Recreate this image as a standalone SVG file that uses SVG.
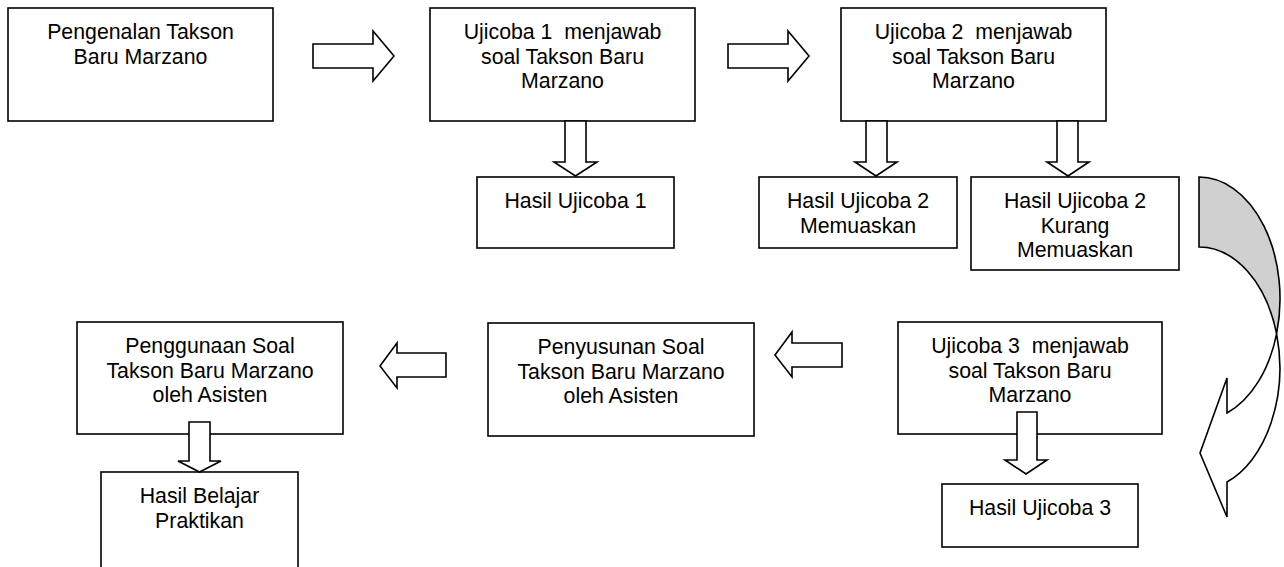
<svg xmlns="http://www.w3.org/2000/svg" width="1284" height="567" viewBox="0 0 1284 567">
<style>
.box{fill:#fff;stroke:#000;stroke-width:1.6}
.arr{fill:#fff;stroke:#000;stroke-width:1.6;stroke-linejoin:miter}
.t{font-family:"Liberation Sans",Arial,sans-serif;font-size:21.3px;fill:#000;text-anchor:middle;white-space:pre}
</style>
<rect width="1284" height="567" fill="#fff"/>
<g id="n1"><rect class="box" x="8" y="8" width="265" height="113"/>
<text class="t" x="140.5" y="39">Pengenalan Takson</text><text class="t" x="140.5" y="63.5">Baru Marzano</text></g>
<g id="n2"><rect class="box" x="430" y="8" width="265" height="113"/>
<text class="t" x="562.5" y="39" xml:space="preserve">Ujicoba 1  menjawab</text><text class="t" x="562.5" y="63.5">soal Takson Baru</text><text class="t" x="562.5" y="88">Marzano</text></g>
<g id="n3"><rect class="box" x="841" y="8" width="265" height="113"/>
<text class="t" x="973.5" y="39" xml:space="preserve">Ujicoba 2  menjawab</text><text class="t" x="973.5" y="63.5">soal Takson Baru</text><text class="t" x="973.5" y="88">Marzano</text></g>
<g id="n4"><rect class="box" x="477" y="177" width="197" height="71"/>
<text class="t" x="575.5" y="208">Hasil Ujicoba 1</text></g>
<g id="n5"><rect class="box" x="759" y="177" width="198" height="71"/>
<text class="t" x="858" y="208">Hasil Ujicoba 2</text><text class="t" x="858" y="232.5">Memuaskan</text></g>
<g id="n6"><rect class="box" x="971" y="177" width="208" height="93"/>
<text class="t" x="1075" y="208">Hasil Ujicoba 2</text><text class="t" x="1075" y="232.5">Kurang</text><text class="t" x="1075" y="257">Memuaskan</text></g>
<g id="n7"><rect class="box" x="898" y="322" width="264" height="112"/>
<text class="t" x="1030" y="353" xml:space="preserve">Ujicoba 3  menjawab</text><text class="t" x="1030" y="377.5">soal Takson Baru</text><text class="t" x="1030" y="402">Marzano</text></g>
<g id="n8"><rect class="box" x="942" y="484" width="196" height="63"/>
<text class="t" x="1040" y="515">Hasil Ujicoba 3</text></g>
<g id="n9"><rect class="box" x="488" y="323" width="266" height="113"/>
<text class="t" x="621" y="354">Penyusunan Soal</text><text class="t" x="621" y="378.5">Takson Baru Marzano</text><text class="t" x="621" y="403">oleh Asisten</text></g>
<g id="n10"><rect class="box" x="77" y="322" width="266" height="112"/>
<text class="t" x="210" y="353">Penggunaan Soal</text><text class="t" x="210" y="377.5">Takson Baru Marzano</text><text class="t" x="210" y="402">oleh Asisten</text></g>
<g id="n11"><rect class="box" x="101" y="472" width="197" height="100"/>
<text class="t" x="199.5" y="503">Hasil Belajar</text><text class="t" x="199.5" y="527.5">Praktikan</text></g>
<g id="connectors">
<path class="arr" d="M313,44 H373 V31 L394,56 L373,81 V68 H313 Z"/>
<path class="arr" d="M728,44 H788 V31 L809,56 L788,81 V68 H728 Z"/>
<path class="arr" d="M565,121 V162 H554 L575.5,176 L597,162 H586 V121 Z"/>
<path class="arr" d="M866,121 V162 H855 L876,176 L897,162 H887 V121 Z"/>
<path class="arr" d="M1057,121 V162 H1047 L1068,176 L1089,162 H1078 V121 Z"/>
<path class="arr" d="M1017,412 V460 H1005 L1026,474 L1047,460 H1037 V412 Z"/>
<path class="arr" d="M189,422 V461 H178 L199.5,472 L221,461 H210 V422 Z"/>
<path class="arr" d="M842,343 H792 V332 L775,355 L792,377 V367 H842 Z"/>
<path class="arr" d="M446,353 H397 V343 L380,366 L397,388 V377 H446 Z"/>
<path fill="#d0d0d0" stroke="#000" stroke-width="1.6" d="M1199,177 A81,121.8 0 0 1 1276.6,333.8 A81,121.8 0 0 0 1199,247 Z"/>
<path class="arr" d="M1276.6,333.8 A81,121.8 0 0 1 1227,482 L1227,517 L1200,453 L1227,378 L1227,413 A81,121.8 0 0 0 1276.6,333.8 Z"/>
</g>
</svg>
